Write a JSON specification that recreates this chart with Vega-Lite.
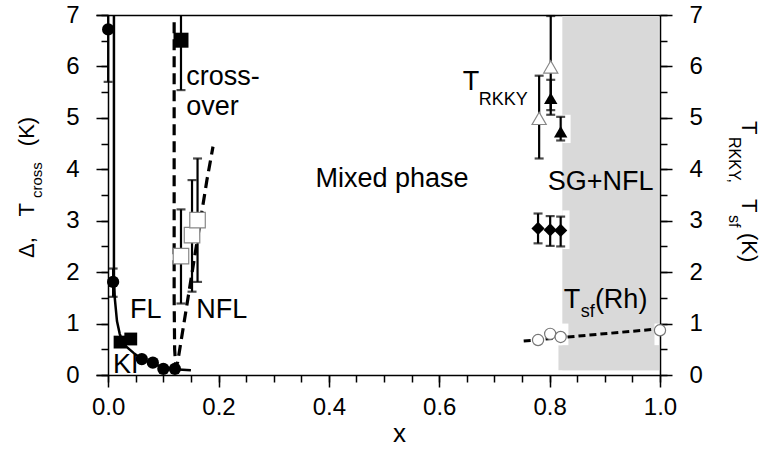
{
  "$schema": "https://vega.github.io/schema/vega-lite/v6.json",
  "width": 564,
  "height": 360,
  "autosize": {"type": "none"},
  "padding": {"left": 96, "top": 15, "right": 103, "bottom": 74},
  "background": "white",
  "config": {
    "view": {"stroke": null},
    "font": "Liberation Sans",
    "axis": {"domainColor": "#000", "tickColor": "#000", "labelColor": "#000", "domainWidth": 1.5, "tickWidth": 1.5, "labelFont": "Liberation Sans", "labelFontSize": 24, "grid": false, "labelFlush": false, "labelOverlap": false}
  },
  "datasets": {
    "shade": [{"x": 0.823, "x2": 0.998, "y": 0.09, "y2": 6.98}, {"x": 0.816, "x2": 0.998, "y": 0.09, "y2": 0.58}],
    "patch": [{"x": 0.823, "x2": 0.838, "y": 4.51, "y2": 5.06}, {"x": 0.823, "x2": 0.836, "y": 2.45, "y2": 3.2}, {"x": 0.816, "x2": 0.834, "y": 0.58, "y2": 1.0}, {"x": 0.99, "x2": 0.998, "y": 0.58, "y2": 1.0}],
    "curve": [{"i": 0, "x": 0.0105, "y": 7.0}, {"i": 1, "x": 0.0105, "y": 1.9}, {"i": 2, "x": 0.012, "y": 1.5}, {"i": 3, "x": 0.016, "y": 1.05}, {"i": 4, "x": 0.021, "y": 0.8}, {"i": 5, "x": 0.025, "y": 0.68}, {"i": 6, "x": 0.033, "y": 0.55}, {"i": 7, "x": 0.046, "y": 0.43}, {"i": 8, "x": 0.061, "y": 0.31}, {"i": 9, "x": 0.08, "y": 0.22}, {"i": 10, "x": 0.1, "y": 0.15}, {"i": 11, "x": 0.12, "y": 0.11}, {"i": 12, "x": 0.15, "y": 0.09}],
    "vline": [{"i": 0, "x": 0.1196, "y": 6.86}, {"i": 1, "x": 0.1196, "y": 1.5}, {"i": 2, "x": 0.1205, "y": 0.5}, {"i": 3, "x": 0.1225, "y": 0.15}, {"i": 4, "x": 0.126, "y": 0.25}, {"i": 5, "x": 0.15, "y": 1.85}, {"i": 6, "x": 0.179, "y": 3.79}, {"i": 7, "x": 0.19, "y": 4.44}],
    "tsfline": [{"x": 0.753, "y": 0.66}, {"x": 1.0, "y": 0.9}],
    "err": [
      {"x": 0.0, "lo": 5.7, "hi": 7.0},
      {"x": 0.009, "lo": 1.52, "hi": 2.07},
      {"x": 0.132, "lo": 5.54, "hi": 7.0},
      {"x": 0.132, "lo": 1.39, "hi": 3.22},
      {"x": 0.152, "lo": 1.62, "hi": 3.79},
      {"x": 0.162, "lo": 1.81, "hi": 4.21},
      {"x": 0.802, "lo": 5.06, "hi": 6.98},
      {"x": 0.781, "lo": 4.21, "hi": 5.82},
      {"x": 0.802, "lo": 5.15, "hi": 5.74},
      {"x": 0.82, "lo": 4.56, "hi": 5.02},
      {"x": 0.779, "lo": 2.56, "hi": 3.14},
      {"x": 0.801, "lo": 2.51, "hi": 3.09},
      {"x": 0.82, "lo": 2.5, "hi": 3.08}
    ],
    "caps": [
      {"x": 0.0, "y": 5.7},
      {"x": 0.009, "y": 1.52}, {"x": 0.009, "y": 2.07},
      {"x": 0.132, "y": 5.54},
      {"x": 0.132, "y": 1.39}, {"x": 0.132, "y": 3.22},
      {"x": 0.152, "y": 1.62}, {"x": 0.152, "y": 3.79},
      {"x": 0.162, "y": 1.81}, {"x": 0.162, "y": 4.21},
      {"x": 0.802, "y": 5.06}, {"x": 0.802, "y": 6.98},
      {"x": 0.781, "y": 4.21}, {"x": 0.781, "y": 5.82},
      {"x": 0.802, "y": 5.15}, {"x": 0.802, "y": 5.74},
      {"x": 0.82, "y": 4.56}, {"x": 0.82, "y": 5.02},
      {"x": 0.779, "y": 2.56}, {"x": 0.779, "y": 3.14},
      {"x": 0.801, "y": 2.51}, {"x": 0.801, "y": 3.09},
      {"x": 0.82, "y": 2.5}, {"x": 0.82, "y": 3.08}
    ],
    "circ": [{"x": 0.0, "y": 6.72}, {"x": 0.009, "y": 1.81}, {"x": 0.061, "y": 0.31}, {"x": 0.081, "y": 0.24}, {"x": 0.1, "y": 0.12}, {"x": 0.121, "y": 0.12}],
    "sq": [{"x": 0.0216, "y": 0.64}, {"x": 0.041, "y": 0.7}],
    "bigsq": [{"x": 0.132, "y": 6.51}],
    "osq": [{"x": 0.132, "y": 2.31}, {"x": 0.152, "y": 2.72}, {"x": 0.162, "y": 3.01}],
    "otri": [{"x": 0.802, "y": 5.99}, {"x": 0.781, "y": 4.99}],
    "btri": [{"x": 0.802, "y": 5.38}, {"x": 0.82, "y": 4.73}],
    "dia": [{"x": 0.779, "y": 2.85}, {"x": 0.801, "y": 2.82}, {"x": 0.82, "y": 2.81}],
    "ocirc": [{"x": 0.779, "y": 0.68}, {"x": 0.801, "y": 0.8}, {"x": 0.82, "y": 0.74}, {"x": 1.0, "y": 0.87}],
    "lab27": [
      {"x": 0.1414, "y": 5.64, "t": "cross-"},
      {"x": 0.1414, "y": 5.055, "t": "over"},
      {"x": 0.0398, "y": 1.108, "t": "FL"},
      {"x": 0.1596, "y": 1.108, "t": "NFL"},
      {"x": 0.0089, "y": 0.039, "t": "KI"},
      {"x": 0.3756, "y": 3.655, "t": "Mixed phase"},
      {"x": 0.7967, "y": 3.597, "t": "SG+NFL"},
      {"x": 0.8257, "y": 1.303, "t": "T"},
      {"x": 0.882, "y": 1.303, "t": "(Rh)"},
      {"x": 0.6424, "y": 5.54, "t": "T"}
    ],
    "lab18": [
      {"x": 0.6714, "y": 5.25, "t": "RKKY"},
      {"x": 0.8566, "y": 1.128, "t": "sf"}
    ],
    "ytl": [
      {"x": -0.1345, "y": 2.275, "t": "Δ,"},
      {"x": -0.1345, "y": 3.08, "t": "T"},
      {"x": -0.1345, "y": 4.45, "t": "(K)"}
    ],
    "ytls": [{"x": -0.12, "y": 3.44, "t": "cross"}],
    "ytr": [
      {"x": 1.1489, "y": 4.939, "t": "T"},
      {"x": 1.1489, "y": 3.422, "t": "T"},
      {"x": 1.1489, "y": 2.761, "t": "(K)"}
    ],
    "ytrs": [
      {"x": 1.1253, "y": 4.628, "t": "RKKY,"},
      {"x": 1.1253, "y": 3.111, "t": "sf"}
    ],
    "xt": [{"x": 0.528, "y": -1.303, "t": "x"}]
  },
  "resolve": {"axis": {"x": "independent", "y": "independent"}},
  "layer": [
    {
      "data": {"name": "shade"},
      "mark": {"type": "rect", "color": "#d9d9d9"},
      "encoding": {
        "x": {"field": "x", "type": "quantitative", "scale": {"domain": [-0.022, 1.0], "nice": false, "zero": false}, "axis": {"orient": "bottom", "values": [0, 0.2, 0.4, 0.6, 0.8, 1.0], "format": ".1f", "tickSize": 12, "labelPadding": 8, "title": null}},
        "x2": {"field": "x2"},
        "y": {"field": "y", "type": "quantitative", "scale": {"domain": [0, 7], "nice": false, "zero": false}, "axis": {"orient": "left", "values": [0, 1, 2, 3, 4, 5, 6, 7], "tickSize": 12, "labelPadding": 17, "offset": -12, "title": null}},
        "y2": {"field": "y2"}
      }
    },
    {
      "data": {"name": "patch"},
      "mark": {"type": "rect", "color": "white"},
      "encoding": {
        "x": {"field": "x", "type": "quantitative", "scale": {"domain": [-0.022, 1.0], "nice": false, "zero": false}, "axis": {"orient": "bottom", "values": [0, 0.05, 0.1, 0.15, 0.2, 0.25, 0.3, 0.35, 0.4, 0.45, 0.5, 0.55, 0.6, 0.65, 0.7, 0.75, 0.8, 0.85, 0.9, 0.95, 1.0], "tickSize": 7, "labels": false, "domain": false, "title": null}},
        "x2": {"field": "x2"},
        "y": {"field": "y", "type": "quantitative", "scale": {"domain": [0, 7], "nice": false, "zero": false}, "axis": {"orient": "left", "values": [0, 0.5, 1, 1.5, 2, 2.5, 3, 3.5, 4, 4.5, 5, 5.5, 6, 6.5, 7], "tickSize": 7, "labels": false, "domain": false, "offset": -12, "title": null}},
        "y2": {"field": "y2"}
      }
    },
    {
      "data": {"name": "curve"},
      "mark": {"type": "line", "color": "black", "strokeWidth": 2.5},
      "encoding": {
        "x": {"field": "x", "type": "quantitative", "scale": {"domain": [-0.022, 1.0], "nice": false, "zero": false}, "axis": {"orient": "top", "ticks": false, "labels": false, "domain": true, "title": null}},
        "y": {"field": "y", "type": "quantitative", "scale": {"domain": [0, 7], "nice": false, "zero": false}, "axis": {"orient": "right", "values": [0, 1, 2, 3, 4, 5, 6, 7], "tickSize": 12, "labelPadding": 17, "title": null}},
        "order": {"field": "i", "type": "quantitative"}
      }
    },
    {
      "data": {"name": "vline"},
      "mark": {"type": "line", "color": "black", "strokeWidth": 3.2, "strokeDash": [11, 6]},
      "encoding": {
        "x": {"field": "x", "type": "quantitative", "scale": {"domain": [-0.022, 1.0], "nice": false, "zero": false}, "axis": null},
        "y": {"field": "y", "type": "quantitative", "scale": {"domain": [0, 7], "nice": false, "zero": false}, "axis": {"orient": "right", "values": [0, 0.5, 1, 1.5, 2, 2.5, 3, 3.5, 4, 4.5, 5, 5.5, 6, 6.5, 7], "tickSize": 7, "labels": false, "domain": false, "title": null}},
        "order": {"field": "i", "type": "quantitative"}
      }
    },
    {
      "data": {"name": "tsfline"},
      "mark": {"type": "line", "color": "black", "strokeWidth": 3, "strokeDash": [7, 4]},
      "encoding": {
        "x": {"field": "x", "type": "quantitative", "scale": {"domain": [-0.022, 1.0], "nice": false, "zero": false}, "axis": null},
        "y": {"field": "y", "type": "quantitative", "scale": {"domain": [0, 7], "nice": false, "zero": false}, "axis": null}
      }
    },
    {
      "data": {"name": "err"},
      "mark": {"type": "rule", "color": "black", "strokeWidth": 2.2},
      "encoding": {
        "x": {"field": "x", "type": "quantitative", "scale": {"domain": [-0.022, 1.0], "nice": false, "zero": false}, "axis": null},
        "y": {"field": "lo", "type": "quantitative", "scale": {"domain": [0, 7], "nice": false, "zero": false}, "axis": null},
        "y2": {"field": "hi"}
      }
    },
    {
      "data": {"name": "caps"},
      "mark": {"type": "tick", "orient": "horizontal", "color": "black", "size": 9, "thickness": 2.2},
      "encoding": {
        "x": {"field": "x", "type": "quantitative", "scale": {"domain": [-0.022, 1.0], "nice": false, "zero": false}, "axis": null},
        "y": {"field": "y", "type": "quantitative", "scale": {"domain": [0, 7], "nice": false, "zero": false}, "axis": null}
      }
    },
    {
      "data": {"name": "circ"},
      "mark": {"type": "point", "shape": "circle", "filled": true, "color": "black", "size": 150, "opacity": 1},
      "encoding": {
        "x": {"field": "x", "type": "quantitative", "scale": {"domain": [-0.022, 1.0], "nice": false, "zero": false}, "axis": null},
        "y": {"field": "y", "type": "quantitative", "scale": {"domain": [0, 7], "nice": false, "zero": false}, "axis": null}
      }
    },
    {
      "data": {"name": "sq"},
      "mark": {"type": "point", "shape": "square", "filled": true, "color": "black", "size": 165, "opacity": 1},
      "encoding": {
        "x": {"field": "x", "type": "quantitative", "scale": {"domain": [-0.022, 1.0], "nice": false, "zero": false}, "axis": null},
        "y": {"field": "y", "type": "quantitative", "scale": {"domain": [0, 7], "nice": false, "zero": false}, "axis": null}
      }
    },
    {
      "data": {"name": "bigsq"},
      "mark": {"type": "point", "shape": "square", "filled": true, "color": "black", "size": 225, "opacity": 1},
      "encoding": {
        "x": {"field": "x", "type": "quantitative", "scale": {"domain": [-0.022, 1.0], "nice": false, "zero": false}, "axis": null},
        "y": {"field": "y", "type": "quantitative", "scale": {"domain": [0, 7], "nice": false, "zero": false}, "axis": null}
      }
    },
    {
      "data": {"name": "osq"},
      "mark": {"type": "point", "shape": "square", "filled": true, "fill": "white", "stroke": "#888", "strokeWidth": 1.2, "size": 240, "opacity": 1},
      "encoding": {
        "x": {"field": "x", "type": "quantitative", "scale": {"domain": [-0.022, 1.0], "nice": false, "zero": false}, "axis": null},
        "y": {"field": "y", "type": "quantitative", "scale": {"domain": [0, 7], "nice": false, "zero": false}, "axis": null}
      }
    },
    {
      "data": {"name": "otri"},
      "mark": {"type": "point", "shape": "triangle-up", "filled": true, "fill": "white", "stroke": "#888", "strokeWidth": 1.2, "size": 200, "opacity": 1},
      "encoding": {
        "x": {"field": "x", "type": "quantitative", "scale": {"domain": [-0.022, 1.0], "nice": false, "zero": false}, "axis": null},
        "y": {"field": "y", "type": "quantitative", "scale": {"domain": [0, 7], "nice": false, "zero": false}, "axis": null}
      }
    },
    {
      "data": {"name": "btri"},
      "mark": {"type": "point", "shape": "triangle-up", "filled": true, "color": "black", "size": 180, "opacity": 1},
      "encoding": {
        "x": {"field": "x", "type": "quantitative", "scale": {"domain": [-0.022, 1.0], "nice": false, "zero": false}, "axis": null},
        "y": {"field": "y", "type": "quantitative", "scale": {"domain": [0, 7], "nice": false, "zero": false}, "axis": null}
      }
    },
    {
      "data": {"name": "dia"},
      "mark": {"type": "point", "shape": "diamond", "filled": true, "color": "black", "size": 175, "opacity": 1},
      "encoding": {
        "x": {"field": "x", "type": "quantitative", "scale": {"domain": [-0.022, 1.0], "nice": false, "zero": false}, "axis": null},
        "y": {"field": "y", "type": "quantitative", "scale": {"domain": [0, 7], "nice": false, "zero": false}, "axis": null}
      }
    },
    {
      "data": {"name": "ocirc"},
      "mark": {"type": "point", "shape": "circle", "filled": true, "fill": "white", "stroke": "#777", "strokeWidth": 1.2, "size": 125, "opacity": 1},
      "encoding": {
        "x": {"field": "x", "type": "quantitative", "scale": {"domain": [-0.022, 1.0], "nice": false, "zero": false}, "axis": null},
        "y": {"field": "y", "type": "quantitative", "scale": {"domain": [0, 7], "nice": false, "zero": false}, "axis": null}
      }
    },
    {
      "data": {"name": "lab27"},
      "mark": {"type": "text", "align": "left", "baseline": "alphabetic", "font": "Liberation Sans", "fontSize": 27, "color": "black"},
      "encoding": {
        "x": {"field": "x", "type": "quantitative", "scale": {"domain": [-0.022, 1.0], "nice": false, "zero": false}, "axis": null},
        "y": {"field": "y", "type": "quantitative", "scale": {"domain": [0, 7], "nice": false, "zero": false}, "axis": null},
        "text": {"field": "t"}
      }
    },
    {
      "data": {"name": "lab18"},
      "mark": {"type": "text", "align": "left", "baseline": "alphabetic", "font": "Liberation Sans", "fontSize": 18, "color": "black"},
      "encoding": {
        "x": {"field": "x", "type": "quantitative", "scale": {"domain": [-0.022, 1.0], "nice": false, "zero": false}, "axis": null},
        "y": {"field": "y", "type": "quantitative", "scale": {"domain": [0, 7], "nice": false, "zero": false}, "axis": null},
        "text": {"field": "t"}
      }
    },
    {
      "data": {"name": "ytl"},
      "mark": {"type": "text", "align": "left", "baseline": "alphabetic", "angle": 270, "font": "Liberation Sans", "fontSize": 22, "color": "black"},
      "encoding": {
        "x": {"field": "x", "type": "quantitative", "scale": {"domain": [-0.022, 1.0], "nice": false, "zero": false}, "axis": null},
        "y": {"field": "y", "type": "quantitative", "scale": {"domain": [0, 7], "nice": false, "zero": false}, "axis": null},
        "text": {"field": "t"}
      }
    },
    {
      "data": {"name": "ytls"},
      "mark": {"type": "text", "align": "left", "baseline": "alphabetic", "angle": 270, "font": "Liberation Sans", "fontSize": 15, "color": "black"},
      "encoding": {
        "x": {"field": "x", "type": "quantitative", "scale": {"domain": [-0.022, 1.0], "nice": false, "zero": false}, "axis": null},
        "y": {"field": "y", "type": "quantitative", "scale": {"domain": [0, 7], "nice": false, "zero": false}, "axis": null},
        "text": {"field": "t"}
      }
    },
    {
      "data": {"name": "ytr"},
      "mark": {"type": "text", "align": "left", "baseline": "alphabetic", "angle": 90, "font": "Liberation Sans", "fontSize": 22, "color": "black"},
      "encoding": {
        "x": {"field": "x", "type": "quantitative", "scale": {"domain": [-0.022, 1.0], "nice": false, "zero": false}, "axis": null},
        "y": {"field": "y", "type": "quantitative", "scale": {"domain": [0, 7], "nice": false, "zero": false}, "axis": null},
        "text": {"field": "t"}
      }
    },
    {
      "data": {"name": "ytrs"},
      "mark": {"type": "text", "align": "left", "baseline": "alphabetic", "angle": 90, "font": "Liberation Sans", "fontSize": 16, "color": "black"},
      "encoding": {
        "x": {"field": "x", "type": "quantitative", "scale": {"domain": [-0.022, 1.0], "nice": false, "zero": false}, "axis": null},
        "y": {"field": "y", "type": "quantitative", "scale": {"domain": [0, 7], "nice": false, "zero": false}, "axis": null},
        "text": {"field": "t"}
      }
    },
    {
      "data": {"name": "xt"},
      "mark": {"type": "text", "align": "center", "baseline": "alphabetic", "font": "Liberation Sans", "fontSize": 26, "color": "black"},
      "encoding": {
        "x": {"field": "x", "type": "quantitative", "scale": {"domain": [-0.022, 1.0], "nice": false, "zero": false}, "axis": null},
        "y": {"field": "y", "type": "quantitative", "scale": {"domain": [0, 7], "nice": false, "zero": false}, "axis": null},
        "text": {"field": "t"}
      }
    }
  ]
}
